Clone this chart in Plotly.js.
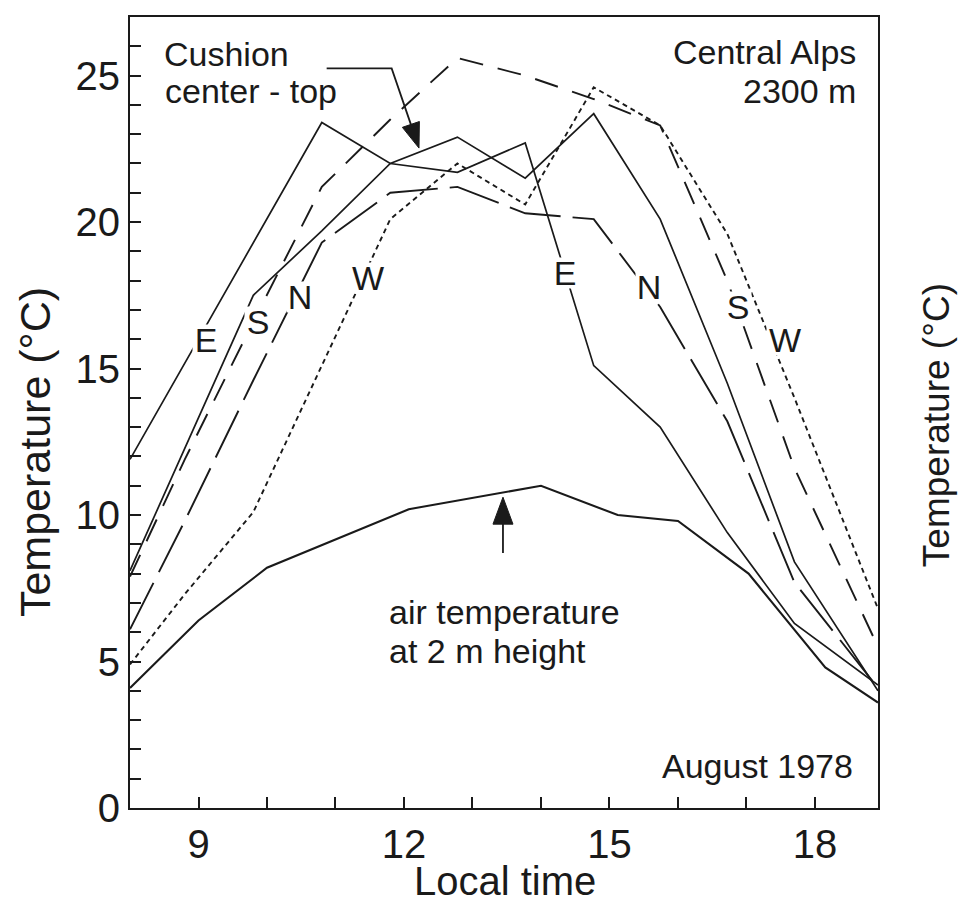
<!DOCTYPE html>
<html>
<head>
<meta charset="utf-8">
<script src="https://cdn.plot.ly/plotly-3.0.1.min.js"></script>
<style>
  html, body { margin: 0; padding: 0; background: #ffffff; }
  #chart { width: 959px; height: 918px; }
</style>
</head>
<body>
<div id="chart"></div>
<script>
// Cushion-plant surface temperatures by exposure, Central Alps, 2300 m, August 1978
const hours = [8, 8.8, 9.8, 10.8, 11.8, 12.78, 13.77, 14.77, 15.74, 16.72, 17.7, 18.92];
const tempE = [11.9, 15.2, 19.3, 23.4, 22.0, 21.7, 22.7, 15.1, 13.0, 9.4, 6.3, 4.2];
const tempS = [7.9, 11.9, 16.6, 21.2, 23.5, 25.6, 25.0, 24.2, 23.3, 18.0, 11.6, 5.5];
const tempN = [6.1, 9.8, 14.6, 19.3, 21.0, 21.2, 20.3, 20.1, 17.1, 13.2, 7.7, 4.1];
const tempW = [4.9, 7.3, 10.1, 15.1, 20.1, 22.0, 20.6, 24.6, 23.3, 19.6, 14.0, 6.8];
const tempCenterTop = [8.1, 12.3, 17.5, 19.7, 22.0, 22.9, 21.5, 23.7, 20.1, 14.5, 8.4, 4.0];

// Air temperature at 2 m height
const airHours = [8, 9, 10, 12.07, 14, 15.12, 16, 17.03, 18.15, 18.92];
const airTemp = [4.1, 6.4, 8.2, 10.2, 11.0, 10.0, 9.8, 8.0, 4.8, 3.6];

// Axis ticks and labels
const xTickVals = [9, 10, 11, 12, 13, 14, 15, 16, 17, 18];
const xTickText = ['9', '', '', '12', '', '', '15', '', '', '18'];
const yTickVals = [0, 1, 2, 3, 4, 5, 6, 7, 8, 9, 10, 11, 12, 13, 14, 15, 16, 17, 18, 19, 20, 21, 22, 23, 24, 25, 26];
const yTickText = yTickVals.map(v => (v % 5 === 0 ? String(v) : ''));

// Exposure labels placed on the curves
const curveLabels = [
  { text: 'E', x: 9.114, y: 15.97 },
  { text: 'S', x: 9.869, y: 16.60 },
  { text: 'N', x: 10.477, y: 17.45 },
  { text: 'W', x: 11.474, y: 18.08 },
  { text: 'E', x: 14.350, y: 18.26 },
  { text: 'N', x: 15.570, y: 17.79 },
  { text: 'S', x: 16.870, y: 17.11 },
  { text: 'W', x: 17.560, y: 15.97 }
];

const X_RANGE = [8, 18.92];
const Y_RANGE = [0, 27];
const M = { l: 130, r: 81, t: 17, b: 110 };
const W = 959, H = 918;
const pxPerX = (W - M.l - M.r) / (X_RANGE[1] - X_RANGE[0]);
const pxPerY = (H - M.t - M.b) / (Y_RANGE[1] - Y_RANGE[0]);

const INK = '#1a1a1a';
const FONT = '"Liberation Sans", Arial, Helvetica, sans-serif';

function lineTrace(x, y, dash, width) {
  return {
    x: x, y: y, type: 'scatter', mode: 'lines',
    line: { color: INK, width: width, dash: dash },
    hoverinfo: 'skip', showlegend: false
  };
}

const traces = [
  lineTrace(hours, tempE, 'solid', 1.7),
  lineTrace(hours, tempCenterTop, 'solid', 1.7),
  lineTrace(hours, tempS, '24px,15px', 1.9),
  lineTrace(hours, tempN, '52px,12px', 1.9),
  lineTrace(hours, tempW, '5px,4px', 1.9),
  lineTrace(airHours, airTemp, 'solid', 2.1)
];

// Filled arrowhead triangle (data coords), pointing from 'from' to 'tip'
function arrowHead(from, tip, lenPx, halfPx) {
  const dxp = (tip[0] - from[0]) * pxPerX;
  const dyp = -(tip[1] - from[1]) * pxPerY;
  const d = Math.hypot(dxp, dyp);
  const ux = dxp / d, uy = dyp / d;
  const bx = -ux * lenPx, by = -uy * lenPx;
  const px = -uy * halfPx, py = ux * halfPx;
  const toData = (ox, oy) => [tip[0] + ox / pxPerX, tip[1] - oy / pxPerY];
  const a = toData(bx + px, by + py);
  const b = toData(bx - px, by - py);
  return {
    type: 'path', xref: 'x', yref: 'y',
    path: `M ${tip[0]},${tip[1]} L ${a[0]},${a[1]} L ${b[0]},${b[1]} Z`,
    fillcolor: INK, line: { color: INK, width: 1 }
  };
}
function arrowBase(from, tip, lenPx) {
  const dxp = (tip[0] - from[0]) * pxPerX;
  const dyp = -(tip[1] - from[1]) * pxPerY;
  const d = Math.hypot(dxp, dyp);
  return [tip[0] - (dxp / d) * lenPx / pxPerX, tip[1] + (dyp / d) * lenPx / pxPerY];
}

// Leader for "Cushion center - top"
const cushionStart = [10.871, 25.245];
const cushionBend = [11.820, 25.245];
const cushionTip = [12.219, 22.526];
const cushionBase = arrowBase(cushionBend, cushionTip, 24);

// Leader for the air temperature
const airStart = [13.445, 8.70];
const airTip = [13.445, 10.61];
const airBase = arrowBase(airStart, airTip, 26);

const shapes = [
  {
    type: 'path', xref: 'x', yref: 'y',
    path: `M ${cushionStart[0]},${cushionStart[1]} L ${cushionBend[0]},${cushionBend[1]} L ${cushionBase[0]},${cushionBase[1]}`,
    line: { color: INK, width: 1.8 }
  },
  arrowHead(cushionBend, cushionTip, 25, 9),
  {
    type: 'line', xref: 'x', yref: 'y',
    x0: airStart[0], y0: airStart[1], x1: airBase[0], y1: airBase[1],
    line: { color: INK, width: 1.8 }
  },
  arrowHead(airStart, airTip, 27, 10)
];

const textFont = { family: FONT, size: 34, color: INK };
const annotations = [
  { text: 'Cushion', x: 8.467, y: 25.75, xanchor: 'left', yanchor: 'middle' },
  { text: 'center - top', x: 8.48, y: 24.48, xanchor: 'left', yanchor: 'middle' },
  { text: 'Central Alps', x: 18.63, y: 25.82, xanchor: 'right', yanchor: 'middle' },
  { text: '2300 m', x: 18.63, y: 24.48, xanchor: 'right', yanchor: 'middle' },
  { text: 'air temperature', x: 11.75, y: 6.70, xanchor: 'left', yanchor: 'middle' },
  { text: 'at 2 m height', x: 11.75, y: 5.37, xanchor: 'left', yanchor: 'middle' },
  { text: 'August 1978', x: 18.58, y: 1.45, xanchor: 'right', yanchor: 'middle' }
].map(a => Object.assign({ xref: 'x', yref: 'y', showarrow: false, font: textFont }, a));

curveLabels.forEach(l => {
  annotations.push({
    text: l.text, x: l.x, y: l.y, xref: 'x', yref: 'y',
    showarrow: false, xanchor: 'center', yanchor: 'middle',
    font: { family: FONT, size: 34, color: INK },
    bgcolor: '#ffffff', borderpad: 0,
    width: l.text === 'W' ? 36 : 26, height: 30
  });
});

// Axis titles
annotations.push(
  { text: 'Temperature (°C)', xref: 'paper', yref: 'paper', x: -0.127, y: 0.45,
    textangle: -90, showarrow: false, xanchor: 'center', yanchor: 'middle',
    font: { family: FONT, size: 43, color: INK } },
  { text: 'Temperature (°C)', xref: 'paper', yref: 'paper', x: 1.0775, y: 0.484,
    textangle: -90, showarrow: false, xanchor: 'center', yanchor: 'middle',
    font: { family: FONT, size: 37, color: INK } },
  { text: 'Local time', xref: 'paper', yref: 'paper', x: 0.501, y: -0.092,
    showarrow: false, xanchor: 'center', yanchor: 'middle',
    font: { family: FONT, size: 40, color: INK } }
);

const axisCommon = {
  showline: true, linecolor: INK, linewidth: 2, mirror: true,
  ticks: 'inside', ticklen: 11, tickwidth: 2, tickcolor: INK,
  showgrid: false, zeroline: false, fixedrange: true,
  tickfont: { family: FONT, size: 40, color: INK }
};

const layout = {
  width: W, height: H,
  margin: M,
  paper_bgcolor: '#ffffff', plot_bgcolor: '#ffffff',
  showlegend: false,
  xaxis: Object.assign({}, axisCommon, {
    range: X_RANGE, tickmode: 'array', tickvals: xTickVals, ticktext: xTickText
  }),
  yaxis: Object.assign({}, axisCommon, {
    range: Y_RANGE, tickmode: 'array', tickvals: yTickVals, ticktext: yTickText
  }),
  shapes: shapes,
  annotations: annotations
};

Plotly.newPlot('chart', traces, layout, { staticPlot: true, displayModeBar: false });
</script>
</body>
</html>
